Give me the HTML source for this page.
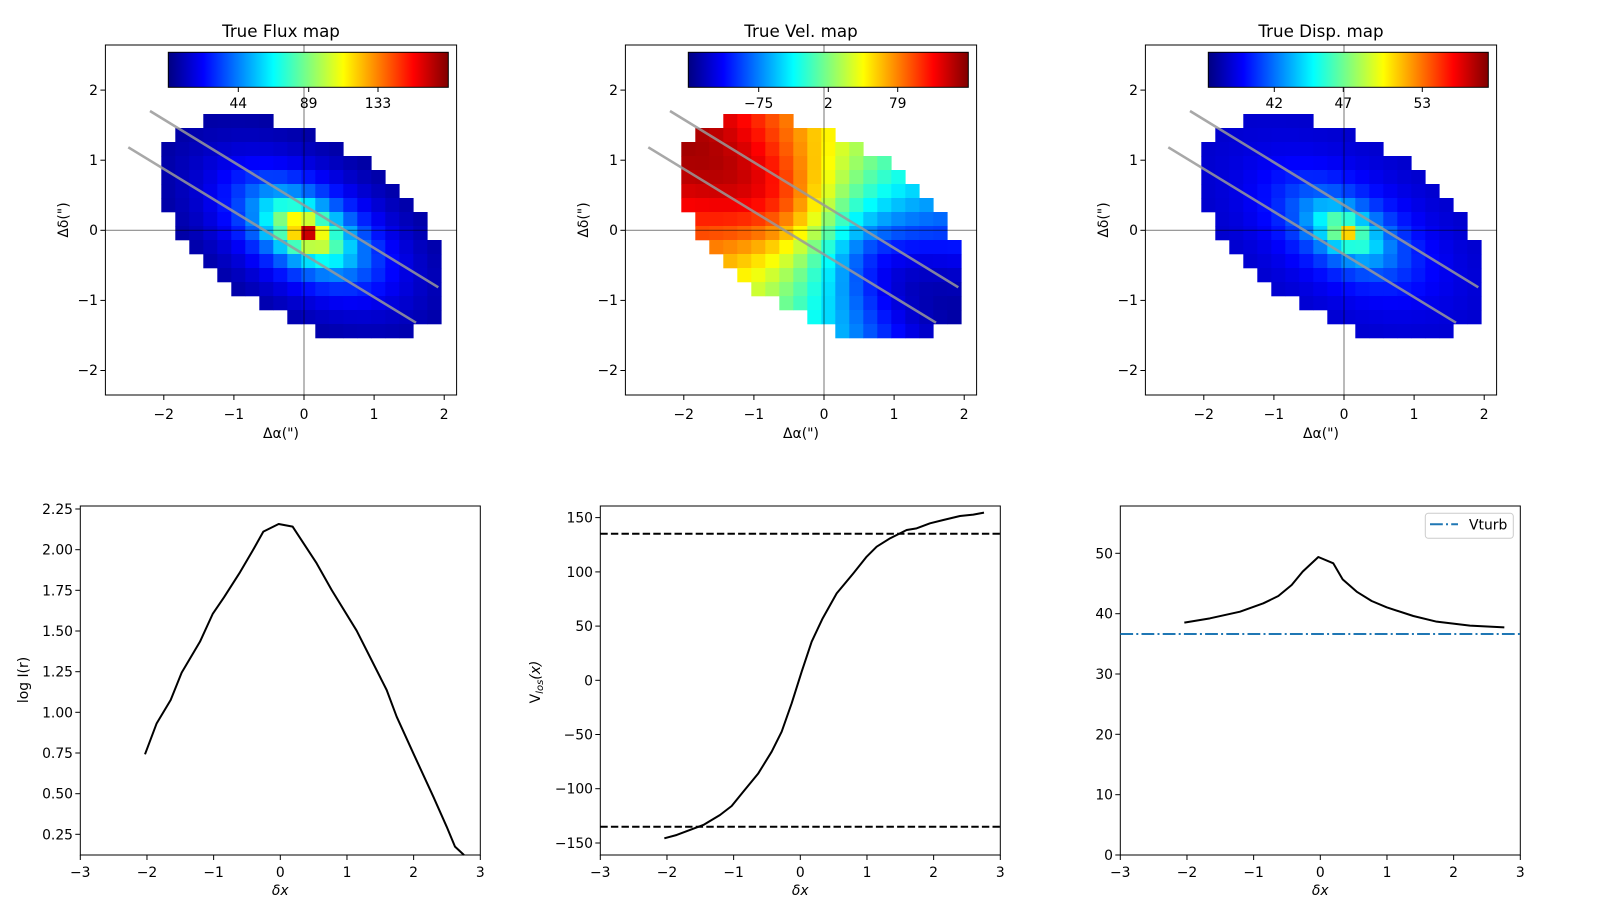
<!DOCTYPE html>
<html><head><meta charset="utf-8"><style>
html,body{margin:0;padding:0;background:#fff;}
svg{display:block;font-family:"DejaVu Sans","Liberation Sans",sans-serif;}
.t{font-size:13.9px;fill:#000;}
.ti{font-size:16.7px;fill:#000;}
</style></head><body>
<svg id="s" width="1600" height="900" viewBox="0 0 1600 900" xmlns="http://www.w3.org/2000/svg">
<defs>
<linearGradient id="jet" x1="0" y1="0" x2="1" y2="0">
<stop offset="0" stop-color="rgb(0,0,128)"/><stop offset="0.125" stop-color="rgb(0,0,255)"/>
<stop offset="0.375" stop-color="rgb(0,255,255)"/><stop offset="0.625" stop-color="rgb(255,255,0)"/>
<stop offset="0.875" stop-color="rgb(255,0,0)"/><stop offset="1" stop-color="rgb(128,0,0)"/>
</linearGradient>
</defs>
<g id="maps"></g>
<g id="over" fill="none"></g>

<text class="ti" x="281" y="37" text-anchor="middle">True Flux map</text>
<text class="ti" x="801" y="37" text-anchor="middle">True Vel. map</text>
<text class="ti" x="1321" y="37" text-anchor="middle">True Disp. map</text>

<g class="t" text-anchor="middle">
<text x="238.3" y="108">44</text><text x="308.7" y="108">89</text><text x="378" y="108">133</text>
<text x="758.7" y="108">−75</text><text x="828.3" y="108">2</text><text x="897.7" y="108">79</text>
<text x="1274.3" y="108">42</text><text x="1343.3" y="108">47</text><text x="1422.3" y="108">53</text>
</g>

<g class="t" text-anchor="middle">
<text x="163.8" y="419">−2</text><text x="233.9" y="419">−1</text><text x="304" y="419">0</text><text x="374.1" y="419">1</text><text x="444.2" y="419">2</text>
<text x="683.8" y="419">−2</text><text x="753.9" y="419">−1</text><text x="824" y="419">0</text><text x="894.1" y="419">1</text><text x="964.2" y="419">2</text>
<text x="1203.8" y="419">−2</text><text x="1273.9" y="419">−1</text><text x="1344" y="419">0</text><text x="1414.1" y="419">1</text><text x="1484.2" y="419">2</text>
<text x="281" y="438">Δα(")</text><text x="801" y="438">Δα(")</text><text x="1321" y="438">Δα(")</text>
</g>
<g class="t" text-anchor="end">
<text x="98" y="95">2</text><text x="98" y="165">1</text><text x="98" y="235">0</text><text x="98" y="305">−1</text><text x="98" y="375">−2</text>
<text x="618" y="95">2</text><text x="618" y="165">1</text><text x="618" y="235">0</text><text x="618" y="305">−1</text><text x="618" y="375">−2</text>
<text x="1138" y="95">2</text><text x="1138" y="165">1</text><text x="1138" y="235">0</text><text x="1138" y="305">−1</text><text x="1138" y="375">−2</text>
</g>
<g class="t" text-anchor="middle">
<text transform="translate(68,220) rotate(-90)">Δδ(")</text>
<text transform="translate(588,220) rotate(-90)">Δδ(")</text>
<text transform="translate(1108,220) rotate(-90)">Δδ(")</text>
</g>

<g fill="none" stroke="#000" stroke-width="1">
<rect x="80.3" y="506" width="400" height="349"/>
<rect x="600.3" y="506" width="400" height="349"/>
<rect x="1120.3" y="506" width="400" height="349"/>
</g>
<g id="bt" stroke="#000" stroke-width="1"></g>

<g class="t" text-anchor="middle">
<text x="80.3" y="877">−3</text><text x="147" y="877">−2</text><text x="213.6" y="877">−1</text><text x="280.3" y="877">0</text><text x="347" y="877">1</text><text x="413.6" y="877">2</text><text x="480.3" y="877">3</text>
<text x="600.3" y="877">−3</text><text x="667" y="877">−2</text><text x="733.6" y="877">−1</text><text x="800.3" y="877">0</text><text x="867" y="877">1</text><text x="933.6" y="877">2</text><text x="1000.3" y="877">3</text>
<text x="1120.3" y="877">−3</text><text x="1187" y="877">−2</text><text x="1253.6" y="877">−1</text><text x="1320.3" y="877">0</text><text x="1387" y="877">1</text><text x="1453.6" y="877">2</text><text x="1520.3" y="877">3</text>
<text x="280.3" y="895" font-style="italic">δx</text>
<text x="800.3" y="895" font-style="italic">δx</text>
<text x="1320.3" y="895" font-style="italic">δx</text>
</g>
<g class="t" text-anchor="end">
<text x="73" y="514">2.25</text><text x="73" y="554.7">2.00</text><text x="73" y="595.3">1.75</text><text x="73" y="636">1.50</text><text x="73" y="676.7">1.25</text><text x="73" y="717.3">1.00</text><text x="73" y="758">0.75</text><text x="73" y="798.7">0.50</text><text x="73" y="839.3">0.25</text>
<text x="593" y="522.6">150</text><text x="593" y="576.9">100</text><text x="593" y="631.1">50</text><text x="593" y="685.3">0</text><text x="593" y="739.5">−50</text><text x="593" y="793.7">−100</text><text x="593" y="848">−150</text>
<text x="1113" y="860">0</text><text x="1113" y="799.7">10</text><text x="1113" y="739.3">20</text><text x="1113" y="679">30</text><text x="1113" y="618.7">40</text><text x="1113" y="558.3">50</text>
</g>
<g class="t" text-anchor="middle">
<text transform="translate(28,680) rotate(-90)">log I(r)</text>
<text transform="translate(540,682) rotate(-90)"><tspan>V</tspan><tspan font-style="italic" font-size="10px" dy="3">los</tspan><tspan dy="-3" font-style="italic">(x)</tspan></text>
</g>

<g fill="none" stroke="#000" stroke-width="2" stroke-linejoin="round">
<polyline transform="translate(0,490) scale(0.33333)" vector-effect="non-scaling-stroke" points="435,793 470,700 512,630 545,548 600,455 638,372 672,322 718,250 758,182 790,125 836,102 878,110 950,220 995,300 1070,422 1160,600 1190,680 1240,790 1300,920 1340,1010 1365,1070 1392,1095"/>
<polyline transform="translate(530,490) scale(0.33333)" vector-effect="non-scaling-stroke" points="403,1045 440,1035 480,1020 520,1005 570,975 605,948 640,905 685,850 725,785 755,725 785,640 815,545 845,455 878,385 920,310 970,250 1010,200 1040,170 1080,145 1130,120 1160,115 1200,100 1240,90 1290,78 1330,74 1362,68"/>
<polyline transform="translate(1070,490) scale(0.33333)" vector-effect="non-scaling-stroke" points="343,398 420,385 510,365 580,340 625,318 665,285 698,245 745,201 790,220 818,268 860,305 905,333 950,352 1030,378 1100,395 1200,407 1303,412"/>
<line x1="600.3" y1="533.7" x2="1000.3" y2="533.7" stroke-dasharray="7.4,3.2"/>
<line x1="600.3" y1="826.7" x2="1000.3" y2="826.7" stroke-dasharray="7.4,3.2"/>
<line x1="1120.3" y1="634" x2="1520.3" y2="634" stroke="#1f77b4" stroke-dasharray="12.8,3.2,2,3.2"/>
</g>
<rect x="1425.3" y="513.3" width="88" height="25" rx="3" fill="#fff" stroke="#ccc" stroke-width="1"/>
<line x1="1430" y1="524.3" x2="1458" y2="524.3" stroke="#1f77b4" stroke-width="2" stroke-dasharray="12.8,3.2,2,3.2"/>
<text class="t" x="1469" y="529.5">Vturb</text>
</svg>
<script>
(function(){
var NS="http://www.w3.org/2000/svg";
function el(p,n,a){var e=document.createElementNS(NS,n);for(var k in a)e.setAttribute(k,a[k]);p.appendChild(e);return e;}
function cl(v){return Math.max(0,Math.min(1,v));}
function jet(t){t=cl(t);var r=cl(1.5-Math.abs(4*t-3)),g=cl(1.5-Math.abs(4*t-2)),b=cl(1.5-Math.abs(4*t-1));
return "rgb("+Math.round(r*255)+","+Math.round(g*255)+","+Math.round(b*255)+")";}
var rows=[[3,8],[1,11],[0,13],[0,15],[0,16],[0,17],[0,18],[1,19],[1,19],[2,20],[3,20],[4,20],[5,20],[7,20],[9,20],[11,18]];
var th=-31.5*Math.PI/180,ct=Math.cos(th),st=Math.sin(th);
function geo(x,y){var u=x*ct+y*st,v=-x*st+y*ct;var R=Math.sqrt(u*u+(v/0.55)*(v/0.55));return [u,R];}
var fns=[
function(x,y){var g=geo(x-0.03,y+0.02);return Math.exp(-Math.pow(g[1]/0.62,0.9));},
function(x,y){var g=geo(x,y);var c=g[1]>1e-6?g[0]/g[1]:0;return 0.5-0.47*Math.tanh(g[1]/0.9)*c;},
function(x,y){var g=geo(x-0.03,y+0.02);return 0.06+0.66*Math.exp(-Math.pow(g[1]/0.55,0.9));}
];
var maps=document.getElementById("maps"),over=document.getElementById("over");
for(var p=0;p<3;p++){
 var off=520*p;
 el(maps,"rect",{x:105.4+off,y:45,width:351.2,height:350,fill:"#fff"});
 for(var r=0;r<rows.length;r++){for(var c=rows[r][0];c<rows[r][1];c++){
  var cx=161.3+c*14+7,cy=114+r*14+7;var x=(cx-304)/70.1,y=(230.3-cy)/70.1;
  el(maps,"rect",{x:161.3+c*14+off,y:114+r*14,width:14.3,height:14.3,fill:jet(fns[p](x,y))});}}
 el(over,"line",{x1:304+off,y1:45,x2:304+off,y2:395,stroke:"#000","stroke-opacity":0.45,"stroke-width":1.2});
 el(over,"line",{x1:105.4+off,y1:230.3,x2:456.6+off,y2:230.3,stroke:"#000","stroke-opacity":0.45,"stroke-width":1.2});
 el(over,"line",{x1:150+off,y1:111,x2:438.3+off,y2:287.3,stroke:"#999","stroke-opacity":0.85,"stroke-width":2.6});
 el(over,"line",{x1:128.3+off,y1:147.3,x2:416+off,y2:322.7,stroke:"#999","stroke-opacity":0.85,"stroke-width":2.6});
 el(over,"rect",{x:105.4+off,y:45,width:351.2,height:350,stroke:"#000","stroke-width":1});
 el(over,"rect",{x:168.3+off,y:52.3,width:280,height:35,fill:"url(#jet)",stroke:"#000","stroke-width":1});
 for(var k=-2;k<=2;k++){
  el(over,"line",{x1:304+off+70.1*k,y1:395,x2:304+off+70.1*k,y2:400,stroke:"#000"});
  el(over,"line",{x1:105.4+off,y1:230.3-70.1*k,x2:100.4+off,y2:230.3-70.1*k,stroke:"#000"});
 }
}
var cbt=[238.3,308.7,378,758.7,828.3,897.7,1274.3,1343.3,1422.3];
cbt.forEach(function(x){el(over,"line",{x1:x,y1:87.3,x2:x,y2:92,stroke:"#000"});});
var bt=document.getElementById("bt");
[80.3,600.3,1120.3].forEach(function(L){for(var k=0;k<=6;k++){var x=L+k*66.667;el(bt,"line",{x1:x,y1:855,x2:x,y2:860});}});
[509,549.7,590.3,631,671.7,712.3,753,793.7,834.3].forEach(function(y){el(bt,"line",{x1:80.3,y1:y,x2:75.3,y2:y});});
[517.6,571.9,626.1,680.3,734.5,788.7,843].forEach(function(y){el(bt,"line",{x1:600.3,y1:y,x2:595.3,y2:y});});
[855,794.7,734.3,674,613.7,553.3].forEach(function(y){el(bt,"line",{x1:1120.3,y1:y,x2:1115.3,y2:y});});
})();
</script>
</body></html>
